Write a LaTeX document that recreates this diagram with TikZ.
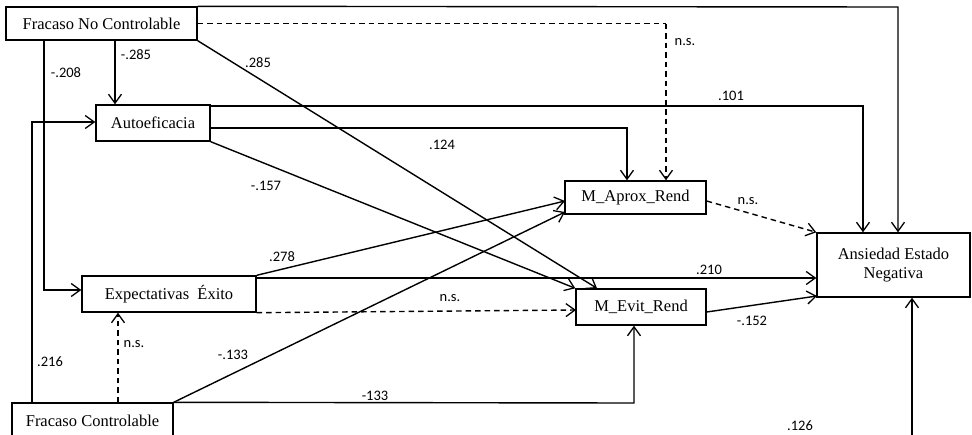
\documentclass[tikz,border=0pt]{standalone}
\usepackage{fontspec}
\setmainfont{Liberation Serif}
\newfontfamily\lblfont{Carlito}
\usetikzlibrary{arrows.meta}
\begin{document}
\begin{tikzpicture}[x=1pt,y=-1pt,
  box/.style={draw,line width=1.4pt,inner sep=0pt,font=\fontsize{16.5}{19}\selectfont,align=center},
  conn/.style={line width=1.4pt},
  arr/.style={conn,-{Straight Barb[length=9pt,width=13pt,line width=1.3pt]}},
  darr/.style={arr,dash pattern=on 5.5pt off 4pt},
  dline/.style={conn,dash pattern=on 5.5pt off 4pt},
  lbl/.style={font=\lblfont\fontsize{14.5}{17}\selectfont,inner sep=0pt}]
\useasboundingbox (0,0) rectangle (972,434);
\fill[white] (0,0) rectangle (972,434);
% boxes
\node[box,minimum width=191pt,minimum height=33pt] (fnc) at (101.5,23.5) {Fracaso No Controlable};
\node[box,minimum width=114pt,minimum height=36pt] (aut) at (153,123) {Autoeficacia};
\node[box,minimum width=174pt,minimum height=36pt] (exp) at (169,294) {Expectativas~ Éxito};
\node[box,minimum width=161pt,minimum height=36pt] (fc) at (92.5,421) {Fracaso Controlable};
\node[box,minimum width=141pt,minimum height=33pt] (apr) at (635.5,197.5) {M\_Aprox\_Rend};
\node[box,minimum width=130pt,minimum height=36pt] (evi) at (641,307) {M\_Evit\_Rend};
\node[box,minimum width=153pt,minimum height=64pt] (ans) at (893.5,265) {Ansiedad Estado\\Negativa};
% helper coordinates
\coordinate (c1) at (898,7);
\coordinate (c2) at (666,23.5);
\coordinate (c3) at (115,0);
\coordinate (c4) at (44,290);
\coordinate (c5) at (597,0);
\coordinate (c6) at (863,106);
\coordinate (c7) at (627,128);
\coordinate (c8) at (565,201);
\coordinate (c9) at (256,278);
\coordinate (c10) at (576,310);
\coordinate (c11) at (118,0);
\coordinate (c12) at (32,122);
\coordinate (c13) at (565,212);
\coordinate (c14) at (634,403);
\coordinate (c15) at (817,296);
\coordinate (c16) at (912,445);
% connectors
\draw[arr] (fnc.north east) -- (c1) -- (ans.north -| c1);
\draw[dline] (fnc.east) -- (c2);
\draw[darr] (c2) -- (apr.north -| c2);
\draw[arr] (fnc.south -| c3) -- (aut.north -| c3);
\draw[arr] (fnc.south -| c4) -- (c4) -- (exp.west |- c4);
\draw[arr] (fnc.south east) -- (evi.north -| c5);
\draw[arr] (aut.east |- c6) -- (c6) -- (ans.north -| c6);
\draw[arr] (aut.east |- c7) -- (c7) -- (apr.north -| c7);
\draw[arr] (aut.south east) -- (evi.north west);
\draw[arr] (exp.north east) -- (c8);
\draw[arr] (c9) -- (ans.west |- c9);
\draw[darr] (exp.south east) -- (c10);
\draw[darr] (fc.north -| c11) -- (exp.south -| c11);
\draw[arr] (fc.north -| c12) -- (c12) -- (aut.west |- c12);
\draw[arr] (fc.north east) -- (c13);
\draw[arr] (fc.north east) -- (c14) -- (evi.south -| c14);
\draw[darr] (apr.east |- c8) -- (ans.north west);
\draw[arr] (evi.east |- 0,312) -- (c15);
\draw[arr] (c16) -- (ans.south -| c16);
% labels
\node[lbl] (l1) at (136,55) {-.285};
\node[lbl] (l2) at (66,73) {-.208};
\node[lbl] (l3) at (258,63) {.285};
\node[lbl] (l4) at (685,42) {n.s.};
\node[lbl] (l5) at (731,96) {.101};
\node[lbl] (l6) at (442,145) {.124};
\node[lbl] (l7) at (266,186) {-.157};
\node[lbl] (l8) at (282,257) {.278};
\node[lbl] (l9) at (709,270) {.210};
\node[lbl] (l10) at (450,298) {n.s.};
\node[lbl] (l11) at (134,344) {n.s.};
\node[lbl] (l12) at (50,362) {.216};
\node[lbl] (l13) at (233,355) {-.133};
\node[lbl] (l14) at (375,396) {-133};
\node[lbl] (l15) at (748,201) {n.s.};
\node[lbl] (l16) at (752,321) {-.152};
\node[lbl] (l17) at (800,426) {.126};
\end{tikzpicture}
\end{document}
